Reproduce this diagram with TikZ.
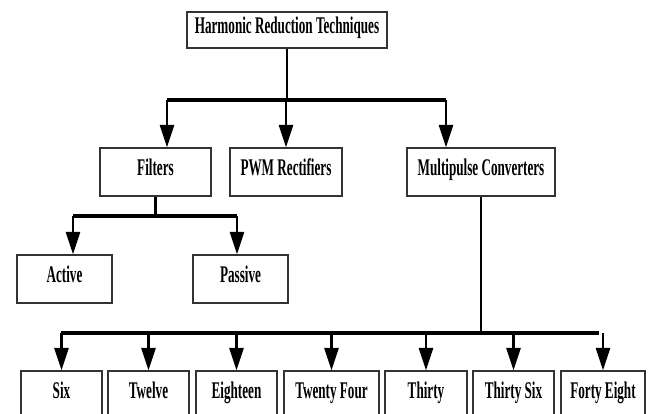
\documentclass[tikz,border=0pt]{standalone}
\usepackage{fontspec}
\setmainfont{Liberation Serif}[FakeStretch=0.55]
\usetikzlibrary{arrows.meta, positioning}

\begin{document}
\begin{tikzpicture}[x=0.025cm, y=-0.025cm,
        box/.style={draw=black!80, line width=0.8pt, minimum height=1.2cm, inner sep=2pt,
                    text height=0.68em, text depth=0.22em,
                    font=\bfseries\fontsize{17pt}{20pt}\selectfont},
        bus/.style={line width=3.2pt},
        stub/.style={line width=1.6pt},
        arr/.style={line width=1.6pt, -{Triangle[length=16pt, width=10pt]}}]
        \useasboundingbox (0,0) rectangle (654,414);

        % Top level
        \node[box, minimum width=5cm, minimum height=0.9cm] (hrt) at (287,30) {Harmonic Reduction Techniques};

        % Second level
        \node[box, minimum width=2.775cm] (filt) at (155.5,172) {Filters};
        \node[box, minimum width=2.8cm] (pwm) at (286,172) {PWM Rectifiers};
        \node[box, minimum width=3.7cm] (mpc) at (481,172) {Multipulse Converters};

        % Filter types
        \node[box, minimum width=2.375cm] (act) at (64.5,279) {Active};
        \node[box, minimum width=2.375cm] (pas) at (240.5,279) {Passive};

        % Pulse numbers
        \node[box, minimum width=2.025cm] (six) at (61.5,395) {Six};
        \node[box, minimum width=2.025cm] (twelve) at (148.5,395) {Twelve};
        \node[box, minimum width=2.025cm] (eighteen) at (236.5,395) {Eighteen};
        \node[box, minimum width=2.375cm] (twentyfour) at (331.5,395) {Twenty Four};
        \node[box, minimum width=2.05cm] (thirty) at (426,395) {Thirty};
        \node[box, minimum width=2.025cm] (thirtysix) at (513.5,395) {Thirty Six};
        \node[box, minimum width=2.1cm] (fortyeight) at (603,395) {Forty Eight};

        % Bus ends
        \coordinate (b1l) at (167,100);
        \coordinate (b1r) at (446,100);
        \coordinate (b2l) at (73,216);
        \coordinate (b2r) at (237,216);
        \coordinate (b3l) at (61,333);
        \coordinate (b3r) at (599,333);

        % Top bus
        \draw[stub, line width=1.1pt] (hrt.south) -- (hrt.south |- b1l);
        \draw[bus] (b1l) -- (b1r);
        \draw[arr] (b1l) -- (b1l |- filt.north);
        \draw[arr] (pwm.north |- b1l) -- (pwm.north);
        \draw[arr] (b1r) -- (b1r |- mpc.north);

        % Filters bus
        \draw[stub] (filt.south) -- (filt.south |- b2l);
        \draw[bus] (b2l) -- (b2r);
        \draw[arr] (b2l) -- (b2l |- act.north);
        \draw[arr] (b2r) -- (b2r |- pas.north);

        % Converters bus
        \draw[stub] (mpc.south) -- (mpc.south |- b3l);
        \draw[bus] (b3l) -- (b3r);
        \foreach \n in {six, twelve, eighteen, twentyfour, thirty, thirtysix, fortyeight}
            \draw[arr] (\n.north |- b3l) -- (\n.north);
\end{tikzpicture}
\end{document}
